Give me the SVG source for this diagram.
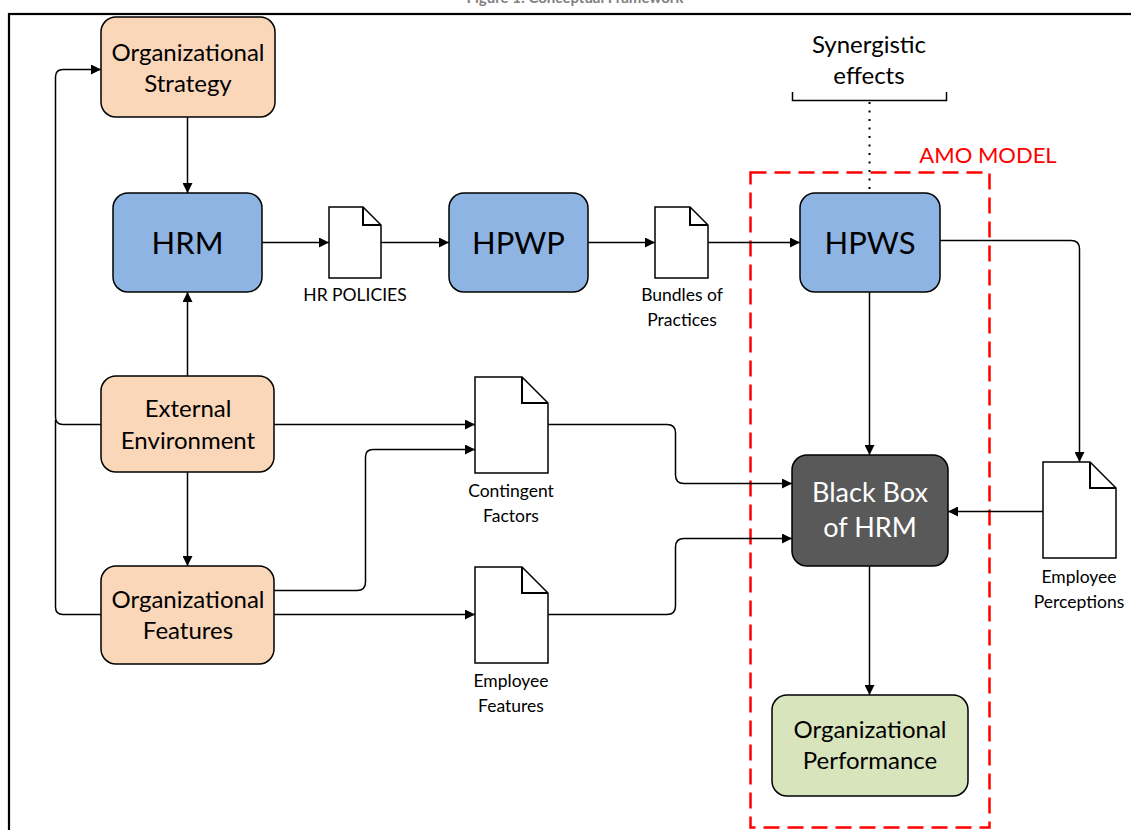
<svg xmlns="http://www.w3.org/2000/svg" width="1131" height="830" viewBox="0 0 1131 830">
  <style>
    text { font-family: Lato, "Open Sans", sans-serif; text-anchor: middle; fill: #000; }
    .box { stroke: #000; stroke-width: 1.5; }
    .peach { fill: #fad7b9; }
    .blue { fill: #8eb4e3; }
    .dark { fill: #595959; }
    .green { fill: #d8e4bc; }
    .doc { fill: #fff; stroke: #000; stroke-width: 1.5; }
    .fold { fill: none; stroke: #000; stroke-width: 2; }
    .lbl { font-size: 24px; }
    .big { font-size: 31px; }
    .small { font-size: 17.5px; }
    .edge { fill: none; stroke: #000; stroke-width: 1.5; marker-end: url(#arrow); }
    .line { fill: none; stroke: #000; stroke-width: 1.5; }
  </style>
  <defs>
    <marker id="arrow" viewBox="0 0 10 10" refX="10" refY="5" markerWidth="10" markerHeight="10" markerUnits="userSpaceOnUse" orient="auto">
      <path d="M0,0 L10,5 L0,10 Z" fill="#000"/>
    </marker>
  </defs>
  <rect width="1131" height="830" fill="#fff"/>

  <!-- caption, cut by the top edge -->
  <text x="575" y="3" style="font-size:15px;font-weight:bold;fill:#808080">Figure 1: Conceptual Framework</text>

  <!-- outer frame -->
  <rect x="9" y="14" width="1140" height="830" fill="none" stroke="#000" stroke-width="2.2"/>

  <!-- AMO model boundary -->
  <g id="amo">
    <rect x="750.5" y="172.5" width="239" height="655" fill="none" stroke="#ff0000" stroke-width="2.5" stroke-dasharray="16 8"/>
    <text x="988" y="163" style="font-size:22px;fill:#ff0000">AMO MODEL</text>
  </g>

  <!-- synergistic effects bracket -->
  <g id="synergy">
    <text x="869" y="53" style="font-size:24px">Synergistic</text>
    <text x="869" y="84" style="font-size:24px">effects</text>
    <path class="line" d="M792.5,92 V100.5 H946.5 V92"/>
    <path d="M869.5,102 V193" fill="none" stroke="#000" stroke-width="2" stroke-dasharray="2 6.5"/>
  </g>

  <g id="connectors">
    <path class="edge" d="M187.5,117 V193"/>
    <path class="edge" d="M187.5,376 V292"/>
    <path class="edge" d="M187.5,472 V566"/>
    <path class="edge" d="M101,424.5 H63 Q55.5,424.5 55.5,417 V77 Q55.5,69.5 63,69.5 H101"/>
    <path class="line" d="M101,614.5 H63 Q55.5,614.5 55.5,607 V420"/>
    <path class="edge" d="M262,242.5 H329"/>
    <path class="edge" d="M381,242.5 H449"/>
    <path class="edge" d="M588,242.5 H655"/>
    <path class="edge" d="M708,242.5 H800"/>
    <path class="edge" d="M869.5,292 V455"/>
    <path class="edge" d="M940,240.5 H1071 Q1079.5,240.5 1079.5,249 V462"/>
    <path class="edge" d="M1043,511.5 H948"/>
    <path class="edge" d="M869.5,566 V695"/>
    <path class="edge" d="M274,424.5 H475"/>
    <path class="edge" d="M274,590.5 H357 Q365.5,590.5 365.5,582 V457 Q365.5,449.5 373,449.5 H475"/>
    <path class="edge" d="M274,614.5 H475"/>
    <path class="edge" d="M548,424.5 H667 Q675.5,424.5 675.5,433 V475 Q675.5,483.5 684,483.5 H792"/>
    <path class="edge" d="M548,614.5 H667 Q675.5,614.5 675.5,606 V547 Q675.5,538.5 684,538.5 H792"/>
  </g>

  <g id="org-strategy">
    <rect class="box peach" x="101" y="17" width="174" height="100" rx="15"/>
    <text class="lbl" x="188" y="61">Organizational</text>
    <text class="lbl" x="188" y="92">Strategy</text>
  </g>

  <g id="hrm">
    <rect class="box blue" x="113" y="193" width="149" height="99" rx="15"/>
    <text class="big" x="187.5" y="254">HRM</text>
  </g>

  <g id="hr-policies">
    <path class="doc" d="M329,207 H363 L381,225 V278 H329 Z"/>
    <path class="fold" d="M363,207 V225 H381"/>
    <text class="small" x="355" y="301">HR POLICIES</text>
  </g>

  <g id="hpwp">
    <rect class="box blue" x="449" y="193" width="139" height="99" rx="15"/>
    <text class="big" x="518.5" y="254">HPWP</text>
  </g>

  <g id="bundles">
    <path class="doc" d="M655,207 H690 L708,225 V278 H655 Z"/>
    <path class="fold" d="M690,207 V225 H708"/>
    <text class="small" x="682" y="301">Bundles of</text>
    <text class="small" x="682" y="326">Practices</text>
  </g>

  <g id="hpws">
    <rect class="box blue" x="800" y="193" width="140" height="99" rx="15"/>
    <text class="big" x="870" y="254">HPWS</text>
  </g>

  <g id="external-environment">
    <rect class="box peach" x="101" y="376" width="173" height="96" rx="15"/>
    <text class="lbl" x="188" y="417">External</text>
    <text class="lbl" x="188" y="449">Environment</text>
  </g>

  <g id="org-features">
    <rect class="box peach" x="101" y="566" width="173" height="98" rx="15"/>
    <text class="lbl" x="188" y="608">Organizational</text>
    <text class="lbl" x="188" y="639">Features</text>
  </g>

  <g id="contingent-factors">
    <path class="doc" d="M475,377 H522 L548,403 V473 H475 Z"/>
    <path class="fold" d="M522,377 V403 H548"/>
    <text class="small" x="511" y="497">Contingent</text>
    <text class="small" x="511" y="522">Factors</text>
  </g>

  <g id="employee-features">
    <path class="doc" d="M475,567 H522 L548,593 V663 H475 Z"/>
    <path class="fold" d="M522,567 V593 H548"/>
    <text class="small" x="511" y="687">Employee</text>
    <text class="small" x="511" y="712">Features</text>
  </g>

  <g id="black-box">
    <rect class="box dark" x="792" y="455" width="156" height="111" rx="15"/>
    <text x="870" y="502" style="font-size:27px;fill:#fff">Black Box</text>
    <text x="870" y="537" style="font-size:27px;fill:#fff">of HRM</text>
  </g>

  <g id="employee-perceptions">
    <path class="doc" d="M1043,462 H1090 L1116,488 V558 H1043 Z"/>
    <path class="fold" d="M1090,462 V488 H1116"/>
    <text class="small" x="1079" y="583">Employee</text>
    <text class="small" x="1079" y="608">Perceptions</text>
  </g>

  <g id="org-performance">
    <rect class="box green" x="772" y="695" width="196" height="101" rx="15"/>
    <text class="lbl" x="870" y="738">Organizational</text>
    <text class="lbl" x="870" y="769">Performance</text>
  </g>
</svg>
